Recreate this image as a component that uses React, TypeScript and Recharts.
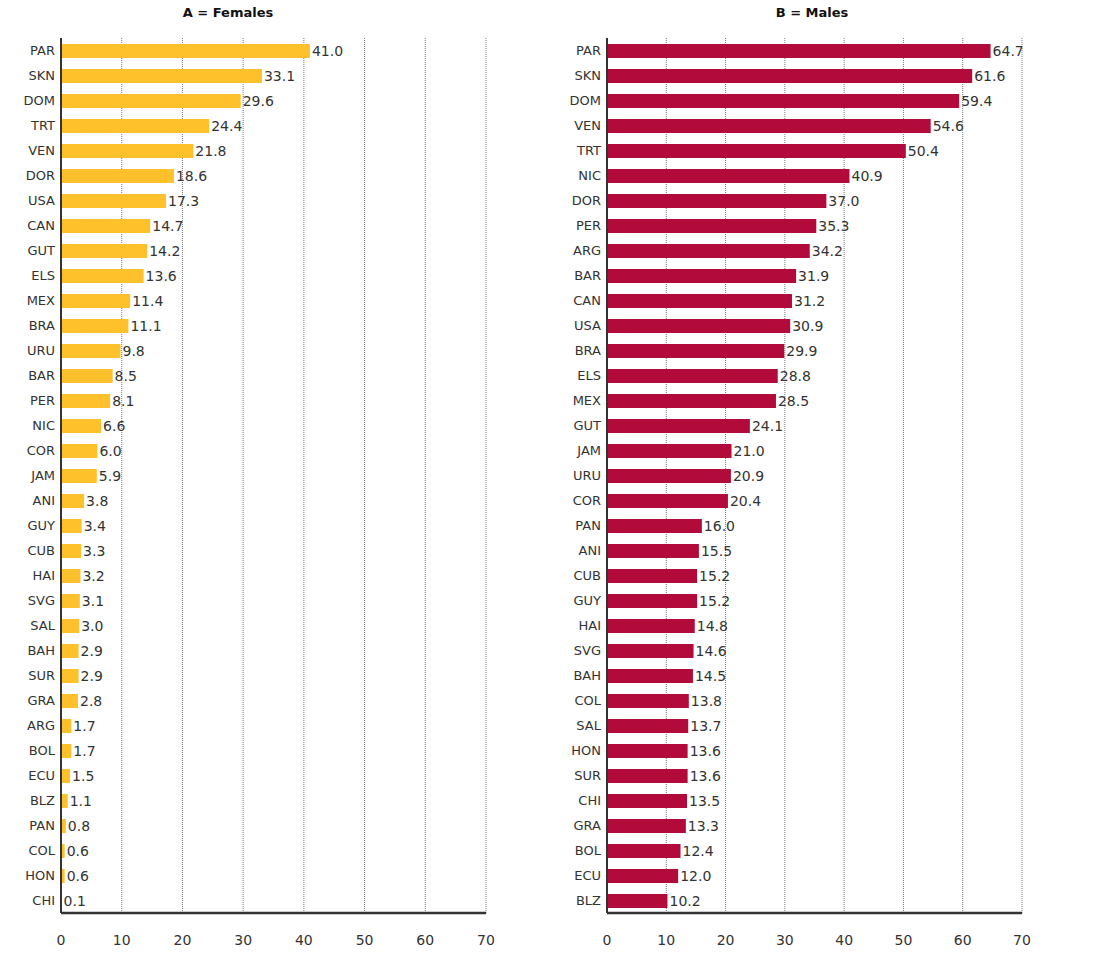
import React from 'react';
import { BarChart, Bar, XAxis, YAxis, CartesianGrid, LabelList } from 'recharts';

const femaleCountries = [
  'PAR', 'SKN', 'DOM', 'TRT', 'VEN', 'DOR', 'USA', 'CAN', 'GUT', 'ELS', 'MEX', 'BRA',
  'URU', 'BAR', 'PER', 'NIC', 'COR', 'JAM', 'ANI', 'GUY', 'CUB', 'HAI', 'SVG', 'SAL',
  'BAH', 'SUR', 'GRA', 'ARG', 'BOL', 'ECU', 'BLZ', 'PAN', 'COL', 'HON', 'CHI'
];
const femaleValues = [
  41.0, 33.1, 29.6, 24.4, 21.8, 18.6, 17.3, 14.7, 14.2, 13.6, 11.4, 11.1,
  9.8, 8.5, 8.1, 6.6, 6.0, 5.9, 3.8, 3.4, 3.3, 3.2, 3.1, 3.0,
  2.9, 2.9, 2.8, 1.7, 1.7, 1.5, 1.1, 0.8, 0.6, 0.6, 0.1
];

const maleCountries = [
  'PAR', 'SKN', 'DOM', 'VEN', 'TRT', 'NIC', 'DOR', 'PER', 'ARG', 'BAR', 'CAN', 'USA',
  'BRA', 'ELS', 'MEX', 'GUT', 'JAM', 'URU', 'COR', 'PAN', 'ANI', 'CUB', 'GUY', 'HAI',
  'SVG', 'BAH', 'COL', 'SAL', 'HON', 'SUR', 'CHI', 'GRA', 'BOL', 'ECU', 'BLZ'
];
const maleValues = [
  64.7, 61.6, 59.4, 54.6, 50.4, 40.9, 37.0, 35.3, 34.2, 31.9, 31.2, 30.9,
  29.9, 28.8, 28.5, 24.1, 21.0, 20.9, 20.4, 16.0, 15.5, 15.2, 15.2, 14.8,
  14.6, 14.5, 13.8, 13.7, 13.6, 13.6, 13.5, 13.3, 12.4, 12.0, 10.2
];

const xTicks = [0, 10, 20, 30, 40, 50, 60, 70];

const FEMALE_COLOR = '#FEC12B';
const MALE_COLOR = '#B20A3A';
const TEXT_COLOR = '#333';
const AXIS_COLOR = '#333';

interface PanelProps {
  title: string;
  titleX: number;
  countries: string[];
  values: number[];
  color: string;
  left: number;
  width: number;
  yAxisWidth: number;
  marginRight: number;
}

const Panel = ({ title, titleX, countries, values, color, left, width, yAxisWidth, marginRight }: PanelProps) => {
  const data = countries.map((code, i) => ({ code, value: values[i] }));
  return (
    <>
      <div style={{
        position: 'absolute',
        left: titleX,
        top: 5,
        transform: 'translateX(-50%)',
        fontSize: 13,
        lineHeight: '16px',
        fontWeight: 'bold',
        color: '#111',
        whiteSpace: 'nowrap'
      }}>
        {title}
      </div>
      <div style={{ position: 'absolute', left, top: 0 }}>
        <BarChart
          width={width}
          height={958}
          layout="vertical"
          data={data}
          margin={{ top: 38, right: marginRight, left: 0, bottom: 0 }}
        >
          <CartesianGrid
            horizontal={false}
            stroke="#777"
            strokeDasharray="1 1"
          />
          <XAxis
            type="number"
            domain={[0, 70]}
            ticks={xTicks}
            height={45}
            tickLine={false}
            tickSize={0}
            tickMargin={22}
            axisLine={{ stroke: AXIS_COLOR, strokeWidth: 2.5 }}
            tick={{ fontSize: 14, fill: TEXT_COLOR }}
          />
          <YAxis
            type="category"
            dataKey="code"
            width={yAxisWidth}
            interval={0}
            tickLine={false}
            tickSize={0}
            tickMargin={6}
            axisLine={{ stroke: AXIS_COLOR, strokeWidth: 2 }}
            tick={{ fontSize: 13, fill: TEXT_COLOR }}
          />
          <Bar dataKey="value" fill={color} barSize={14} isAnimationActive={false}>
            <LabelList
              dataKey="value"
              position="right"
              offset={2}
              formatter={(v: unknown) => Number(v).toFixed(1)}
              style={{ fontSize: 14, fill: TEXT_COLOR }}
            />
          </Bar>
        </BarChart>
      </div>
    </>
  );
};

export default function App() {
  return (
    <div style={{
      position: 'absolute',
      left: 0,
      top: 0,
      width: 1110,
      height: 958,
      background: '#fff',
      fontFamily: '"DejaVu Sans", sans-serif'
    }}>
      <Panel
        title="A = Females"
        titleX={228}
        countries={femaleCountries}
        values={femaleValues}
        color={FEMALE_COLOR}
        left={0}
        width={550}
        yAxisWidth={61}
        marginRight={64}
      />
      <Panel
        title="B = Males"
        titleX={812}
        countries={maleCountries}
        values={maleValues}
        color={MALE_COLOR}
        left={550}
        width={560}
        yAxisWidth={57}
        marginRight={88}
      />
    </div>
  );
}
